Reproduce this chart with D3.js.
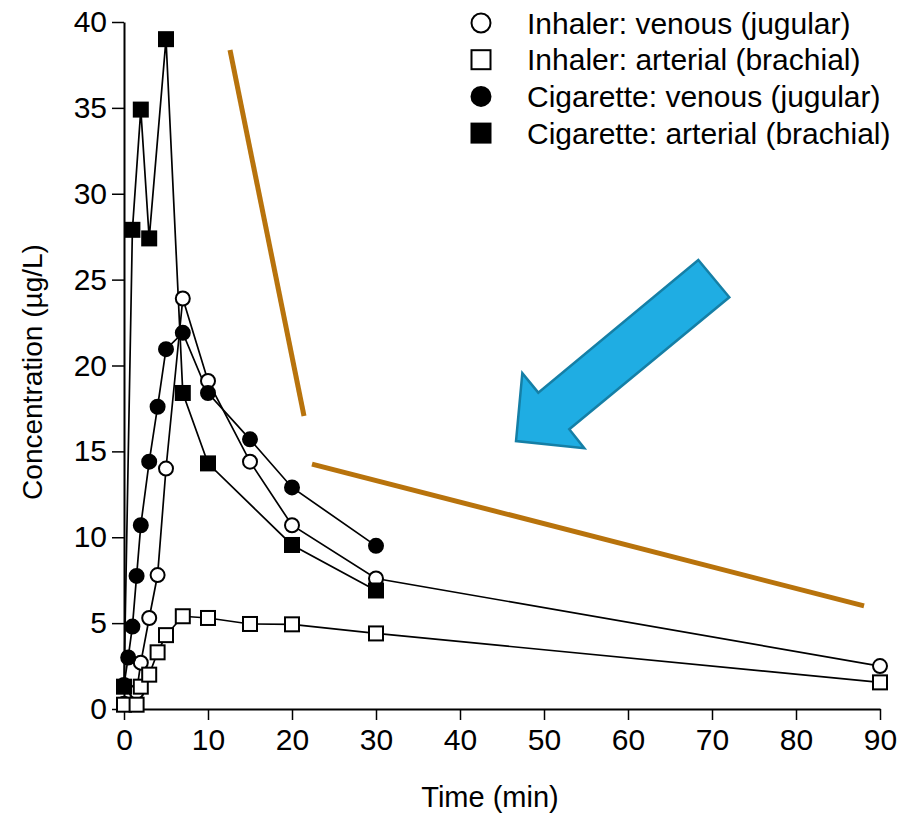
<!DOCTYPE html>
<html>
<head>
<meta charset="utf-8">
<script src="https://cdn.jsdelivr.net/npm/d3@7"></script>
<style>
  body { margin: 0; background: #fff; }
  svg { display: block; font-family: "Liberation Sans", Arial, sans-serif; }
</style>
</head>
<body>
<svg id="chart" width="900" height="813"></svg>
<script>
    // time points (min) and concentrations (ug/L) per series
    var inhVenT = [0, 1.5, 2, 3, 4, 5, 7, 10, 15, 20, 30, 90];
    var inhVenC = [0.3, 1.0, 2.7, 5.3, 7.8, 14.0, 23.9, 19.1, 14.4, 10.7, 7.6, 2.5];

    var inhArtT = [0, 1.5, 2, 3, 4, 5, 7, 10, 15, 20, 30, 90];
    var inhArtC = [0.25, 0.25, 1.3, 2.0, 3.3, 4.3, 5.4, 5.3, 4.95, 4.93, 4.4, 1.55];

    var cigVenT = [0, 0.5, 1, 1.5, 2, 3, 4, 5, 7, 10, 15, 20, 30];
    var cigVenC = [1.4, 3.0, 4.8, 7.75, 10.7, 14.4, 17.6, 20.95, 21.9, 18.4, 15.7, 12.9, 9.5];

    var cigArtT = [0, 1, 2, 3, 5, 7, 10, 20, 30];
    var cigArtC = [1.3, 27.9, 34.9, 27.4, 39.0, 18.4, 14.3, 9.55, 6.9];

    var xTicks = [0, 10, 20, 30, 40, 50, 60, 70, 80, 90];
    var yTicks = [0, 5, 10, 15, 20, 25, 30, 35, 40];

    var seriesNames = ["Inhaler: venous (jugular)", "Inhaler: arterial (brachial)",
                       "Cigarette: venous (jugular)", "Cigarette: arterial (brachial)"];

    // annotation shapes, in data units (time, concentration)
    var steepLine = [[12.62, 38.37], [21.43, 17.06]];
    var slowLine = [[22.38, 14.26], [88.1, 6.0]];
    var arrowPts = [[46.67, 15.6], [47.42, 19.55], [49.32, 18.42], [68.37, 26.14],
                    [72.06, 23.97], [53.01, 16.29], [54.8, 15.18]];

    var svg = d3.select("#chart");

    var x = d3.scaleLinear().domain([0, 90]).range([124, 880]);
    var y = d3.scaleLinear().domain([0, 40]).range([709, 22]);

    function pairs(t, c) {
        return t.map(function (d, i) { return [d, c[i]]; });
    }

    var series = [
        {name: seriesNames[0], pts: pairs(inhVenT, inhVenC), shape: "circle", fill: "#fff"},
        {name: seriesNames[1], pts: pairs(inhArtT, inhArtC), shape: "square", fill: "#fff"},
        {name: seriesNames[2], pts: pairs(cigVenT, cigVenC), shape: "circle", fill: "#000"},
        {name: seriesNames[3], pts: pairs(cigArtT, cigArtC), shape: "square", fill: "#000"}
    ];

    // axes
    var xAxis = svg.append("g")
        .attr("transform", "translate(0," + y(0) + ")")
        .call(d3.axisBottom(x).tickValues(xTicks).tickSize(11).tickSizeOuter(0).tickPadding(9));
    var yAxis = svg.append("g")
        .attr("transform", "translate(" + x(0) + ",0)")
        .call(d3.axisLeft(y).tickValues(yTicks).tickSize(12).tickSizeOuter(0).tickPadding(5));

    [xAxis, yAxis].forEach(function (a) {
        a.select(".domain").attr("stroke", "#000").attr("stroke-width", 2);
        a.selectAll(".tick line").attr("stroke", "#000").attr("stroke-width", 1.5);
        a.selectAll(".tick text")
            .attr("fill", "#000")
            .style("font-size", "30px")
            .style("font-family", "'Liberation Sans', Arial, sans-serif");
    });

    svg.append("text")
        .attr("x", 490).attr("y", 807)
        .attr("text-anchor", "middle")
        .style("font-size", "29px")
        .text("Time (min)");

    svg.append("text")
        .attr("transform", "translate(42," + 372 + ") rotate(-90)")
        .attr("text-anchor", "middle")
        .style("font-size", "28px")
        .text("Concentration (µg/L)");

    // lines
    var line = d3.line()
        .x(function (d) { return x(d[0]); })
        .y(function (d) { return y(d[1]); });

    svg.selectAll(".series-line")
        .data(series)
        .enter()
        .append("path")
        .attr("class", "series-line")
        .attr("d", function (d) { return line(d.pts); })
        .attr("fill", "none")
        .attr("stroke", "#000")
        .attr("stroke-width", 1.7);

    function drawMarker(g, shape, fill, size) {
        if (shape === "circle") {
            g.append("circle").attr("r", size / 2)
                .attr("fill", fill).attr("stroke", "#000").attr("stroke-width", 2);
        } else {
            g.append("rect")
                .attr("x", -size / 2).attr("y", -size / 2)
                .attr("width", size).attr("height", size)
                .attr("fill", fill).attr("stroke", "#000").attr("stroke-width", 2);
        }
    }

    series.forEach(function (s) {
        s.pts.forEach(function (p) {
            var g = svg.append("g")
                .attr("transform", "translate(" + x(p[0]) + "," + y(p[1]) + ")");
            drawMarker(g, s.shape, s.fill, 14);
        });
    });

    // legend
    var legend = svg.append("g");
    series.forEach(function (s, i) {
        var row = legend.append("g")
            .attr("transform", "translate(481," + (23 + i * 36.7) + ")");
        drawMarker(row, s.shape, s.fill, 19);
        row.append("text")
            .attr("x", 46).attr("dy", "0.35em")
            .style("font-size", "30px")
            .text(s.name);
    });

    // annotations
    svg.append("path")
        .attr("d", line(steepLine))
        .attr("stroke", "#b8730c").attr("stroke-width", 5).attr("fill", "none");
    svg.append("path")
        .attr("d", line(slowLine))
        .attr("stroke", "#b8730c").attr("stroke-width", 5).attr("fill", "none");

    svg.append("path")
        .attr("d", line(arrowPts) + "Z")
        .attr("fill", "#1fade3")
        .attr("stroke", "#157fa6")
        .attr("stroke-width", 2.5)
        .attr("stroke-linejoin", "miter");
</script>
</body>
</html>
